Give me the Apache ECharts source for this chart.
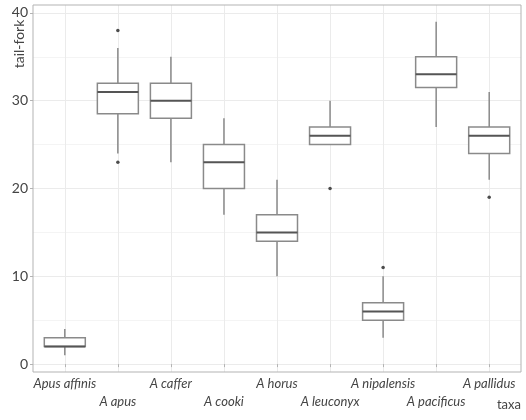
<!DOCTYPE html>
<html>
<head>
<meta charset="utf-8">
<script src="https://cdn.jsdelivr.net/npm/echarts@6/dist/echarts.min.js"></script>
<style>
  html, body { margin: 0; padding: 0; background: #fff; }
  #chart { width: 526px; height: 420px; }
</style>
</head>
<body>
<div id="chart"></div>
<script>
// taxa along x, tail-fork values
var taxa = ['Apus affinis', 'A apus', 'A caffer', 'A cooki', 'A horus',
            'A leuconyx', 'A nipalensis', 'A pacificus', 'A pallidus'];
var lowWhisker  = [1, 24, 23, 17, 10, 25, 3, 27, 21];
var q1          = [2, 28.5, 28, 20, 14, 25, 5, 31.5, 24];
var medians     = [2, 31, 30, 23, 15, 26, 6, 33, 26];
var q3          = [3, 32, 32, 25, 17, 27, 7, 35, 27];
var highWhisker = [4, 36, 35, 28, 21, 30, 10, 39, 31];
var outlierTaxon = [1, 1, 5, 6, 8];
var outlierValue = [38, 23, 20, 11, 19];
var yMin = 0, yMax = 40, yStep = 10;

var FONT = 'Lato, "Open Sans", sans-serif';
var TXT = '#444';
var BOX_W = 41;

var boxData = taxa.map(function (t, i) {
    return [i, lowWhisker[i], q1[i], medians[i], q3[i], highWhisker[i]];
});
var outlierData = outlierValue.map(function (v, i) { return [outlierTaxon[i], v]; });

// ggplot-like box: no caps on the whiskers
function renderBox(params, api) {
    var x = api.value(0);
    var pLow = api.coord([x, api.value(1)]);
    var pQ1 = api.coord([x, api.value(2)]);
    var pMed = api.coord([x, api.value(3)]);
    var pQ3 = api.coord([x, api.value(4)]);
    var pHigh = api.coord([x, api.value(5)]);
    var cx = pMed[0], half = BOX_W / 2;
    var lineStyle = { stroke: '#8a8a8a', lineWidth: 1.5, fill: null };
    return {
        type: 'group',
        children: [
            { type: 'line', shape: { x1: cx, y1: pHigh[1], x2: cx, y2: pQ3[1] }, style: lineStyle },
            { type: 'line', shape: { x1: cx, y1: pQ1[1], x2: cx, y2: pLow[1] }, style: lineStyle },
            { type: 'rect', shape: { x: cx - half, y: pQ3[1], width: BOX_W, height: pQ1[1] - pQ3[1] },
              style: { fill: '#fff', stroke: '#8a8a8a', lineWidth: 1.5 } },
            { type: 'line', shape: { x1: cx - half, y1: pMed[1], x2: cx + half, y2: pMed[1] },
              style: { stroke: '#555', lineWidth: 2 } }
        ]
    };
}

var chart = echarts.init(document.getElementById('chart'));

var option = {
    backgroundColor: '#fff',
    animation: false,
    grid: [
        // panel border
        { left: 33, right: 5, top: 5, bottom: 48, show: true, borderColor: '#b3b3b3', borderWidth: 1, backgroundColor: 'transparent', z: 3 },
        // categories (centres of the 9 taxa)
        { left: 64.8, right: 36.8, top: 5, bottom: 48 },
        // y scale 0..40
        { left: 33, right: 5, top: 12.9, bottom: 55.9 }
    ],
    xAxis: [
        { gridIndex: 0, type: 'value', show: false, min: 0, max: 1 },
        {
            gridIndex: 1, type: 'category', data: taxa, boundaryGap: false,
            axisLine: { show: false },
            axisTick: { show: true, length: 3, lineStyle: { color: '#b3b3b3' } },
            splitLine: { show: true, lineStyle: { color: '#ebebeb', width: 1 } },
            axisLabel: {
                margin: 3, fontFamily: FONT, fontSize: 13, fontStyle: 'italic', color: TXT,
                lineHeight: 18, interval: 0,
                formatter: function (v, i) { return i % 2 ? '\n' + v : v; }
            }
        },
        { gridIndex: 2, type: 'value', show: false, min: 0, max: 1 }
    ],
    yAxis: [
        { gridIndex: 0, type: 'value', show: false, min: 0, max: 1 },
        { gridIndex: 1, type: 'value', show: false, min: -0.9, max: 40.9 },
        {
            gridIndex: 2, type: 'value', min: yMin, max: yMax, interval: yStep,
            axisLine: { show: false },
            axisTick: { show: true, length: 3, lineStyle: { color: '#b3b3b3' } },
            axisLabel: { margin: 5, fontFamily: FONT, fontSize: 14, color: TXT },
            splitLine: { show: true, lineStyle: { color: '#ebebeb', width: 1 } },
            minorTick: { show: false, splitNumber: 2 },
            minorSplitLine: { show: true, lineStyle: { color: '#f4f4f4', width: 1 } }
        }
    ],
    graphic: [
        {
            type: 'text', x: 19, y: 44, rotation: Math.PI / 2,
            style: { text: 'tail-fork', x: 0, y: 0, align: 'center', verticalAlign: 'middle',
                     font: '14px ' + FONT, fill: TXT }
        },
        {
            type: 'text', x: 521, y: 405,
            style: { text: 'taxa', x: 0, y: 0, align: 'right', verticalAlign: 'middle',
                     font: '13px ' + FONT, fill: TXT }
        }
    ],
    series: [
        {
            type: 'custom', xAxisIndex: 1, yAxisIndex: 1,
            renderItem: renderBox,
            encode: { x: 0, y: [1, 2, 3, 4, 5] },
            data: boxData,
            z: 4
        },
        {
            type: 'scatter', xAxisIndex: 1, yAxisIndex: 1,
            symbol: 'circle', symbolSize: 3.5,
            itemStyle: { color: '#222' },
            data: outlierData,
            z: 5
        }
    ]
};

chart.setOption(option);
</script>
</body>
</html>
